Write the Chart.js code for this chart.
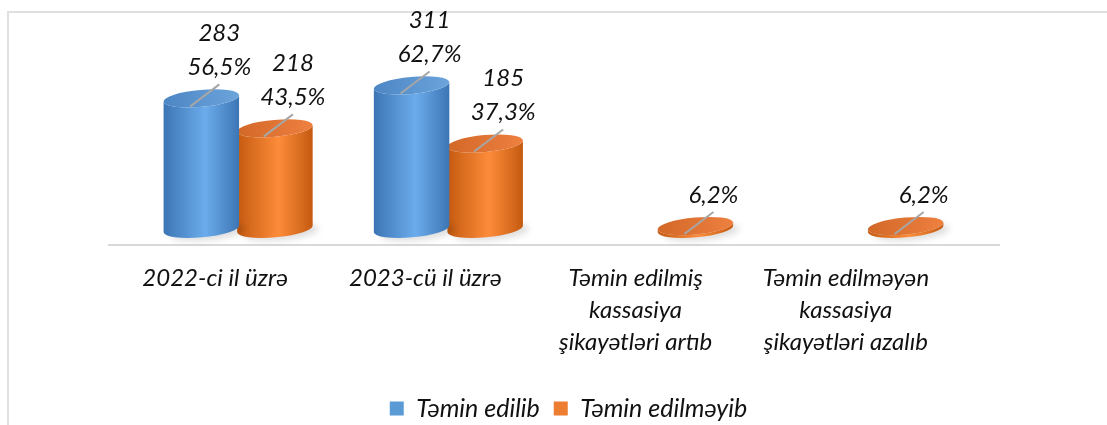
<!DOCTYPE html>
<html><head><meta charset="utf-8">
<script src="https://cdn.jsdelivr.net/npm/chart.js@4"></script>
<style>
html,body{margin:0;padding:0;background:#fff;}
#wrap{position:relative;width:1107px;height:425px;overflow:hidden;}
#frame{position:absolute;left:7px;top:11px;right:-5px;bottom:-5px;border-top:2px solid #e0e0e0;border-left:2px solid #e0e0e0;}
canvas{position:absolute;left:0;top:0;}
</style></head><body>
<div id="wrap"><div id="frame"></div><canvas id="c" width="1107" height="425"></canvas></div>
<script>
const categories = [
  '2022-ci il üzrə',
  '2023-cü il üzrə',
  ['Təmin edilmiş', 'kassasiya', 'şikayətləri artıb'],
  ['Təmin edilməyən', 'kassasiya', 'şikayətləri azalıb']
];
const seriesNames = ['Təmin edilib', 'Təmin edilməyib'];
const satisfiedValues = [283, 311, null, null];
const unsatisfiedValues = [218, 185, 6.2, 6.2];
const satisfiedCounts = [283, 311, null, null];
const unsatisfiedCounts = [218, 185, null, null];
const satisfiedPercents = [56.5, 62.7, null, null];
const unsatisfiedPercents = [43.5, 37.3, 6.2, 6.2];

const counts = [satisfiedCounts, unsatisfiedCounts];
const percents = [satisfiedPercents, unsatisfiedPercents];

const FONT = 'Lato';
const palettes = [
  {edge: '#3c75b4', light: '#6cacec', capA: '#4c86c4', capB: '#6ca4db'},
  {edge: '#c45a10', light: '#fd8c3a', capA: '#d26828', capB: '#ee8040'}
];
const TILT = -0.09;

function drawCylinder(ctx, x, top, base, w, pal) {
  const rx = w / 2, ry = 8.5;
  ctx.save();
  ctx.filter = 'blur(3px)';
  ctx.fillStyle = 'rgba(0,0,0,0.13)';
  ctx.beginPath();
  ctx.ellipse(x + 6, base + 3, rx, ry, TILT, 0, Math.PI * 2);
  ctx.fill();
  ctx.restore();

  const g = ctx.createLinearGradient(x - rx, 0, x + rx, 0);
  g.addColorStop(0, pal.edge);
  g.addColorStop(0.55, pal.light);
  g.addColorStop(1, pal.edge);
  ctx.beginPath();
  ctx.ellipse(x, base, rx, ry, TILT, Math.PI, 0, true);
  ctx.ellipse(x, top, rx, ry, TILT, 0, Math.PI, false);
  ctx.closePath();
  ctx.fillStyle = g;
  ctx.fill();

  const gc = ctx.createLinearGradient(x - rx, top, x + rx, top);
  gc.addColorStop(0, pal.capA);
  gc.addColorStop(1, pal.capB);
  ctx.beginPath();
  ctx.ellipse(x, top, rx, ry, TILT, 0, Math.PI * 2);
  ctx.fillStyle = gc;
  ctx.fill();
}

const cylinderPlugin = {
  id: 'cyl',
  beforeDatasetDraw(chart, args) {
    const ctx = chart.ctx;
    const ds = chart.data.datasets[args.index];
    args.meta.data.forEach((el, i) => {
      if (ds.data[i] == null) return;
      const p = el.getProps(['x', 'y', 'base', 'width'], true);
      drawCylinder(ctx, p.x, p.y, p.base, p.width, palettes[args.index]);
    });
    return false;
  }
};

const axisLinePlugin = {
  id: 'axisLine',
  beforeDatasetsDraw(chart) {
    const {ctx, chartArea} = chart;
    ctx.save();
    ctx.strokeStyle = '#d9d9d9';
    ctx.lineWidth = 2;
    ctx.beginPath();
    ctx.moveTo(chartArea.left - 25, chartArea.bottom);
    ctx.lineTo(chartArea.right + 26, chartArea.bottom);
    ctx.stroke();
    ctx.restore();
  }
};

function fmt(n) { return n.toFixed(1).replace('.', ','); }

const labelPlugin = {
  id: 'lbl',
  afterDatasetsDraw(chart) {
    const ctx = chart.ctx;
    ctx.save();
    chart.data.datasets.forEach((ds, di) => {
      const meta = chart.getDatasetMeta(di);
      meta.data.forEach((el, i) => {
        const pct = percents[di][i];
        if (pct == null) return;
        const cnt = counts[di][i];
        const {x, y} = el.getProps(['x', 'y'], true);
        const lx = x + 18, ly = y - 31;
        ctx.strokeStyle = '#a6a6a6';
        ctx.lineWidth = 2;
        ctx.beginPath();
        ctx.moveTo(lx, ly + 17);
        ctx.lineTo(x - 11, y + 8);
        ctx.stroke();
        ctx.font = 'italic 24px ' + FONT;
        ctx.fillStyle = '#111';
        ctx.textAlign = 'center';
        ctx.textBaseline = 'middle';
        ctx.fillText(fmt(pct) + '%', lx, ly);
        if (cnt != null) ctx.fillText(String(cnt), lx, ly - 34);
      });
    });
    ctx.restore();
  }
};

const legendShift = {
  id: 'legendShift',
  afterLayout(chart) {
    const lg = chart.legend;
    if (lg) {
      lg.left += 15; lg.right += 15;
      lg.top += 6; lg.bottom += 6;
    }
  }
};

new Chart(document.getElementById('c'), {
  type: 'bar',
  data: {
    labels: categories,
    datasets: [
      {label: seriesNames[0], data: satisfiedValues, backgroundColor: '#5b9bd5', categoryPercentage: 0.7, barPercentage: 1.03},
      {label: seriesNames[1], data: unsatisfiedValues, backgroundColor: '#ed7d31', categoryPercentage: 0.7, barPercentage: 1.03}
    ]
  },
  options: {
    responsive: false,
    animation: false,
    layout: {padding: {left: 133, right: 133, top: 20, bottom: 0}},
    scales: {
      x: {
        grid: {display: false, drawTicks: false},
        border: {display: false},
        afterFit(scale) { scale.height = 131; },
        ticks: {
          font: {family: FONT, style: 'italic', size: 24, lineHeight: 32 / 24},
          color: '#111', padding: 17, labelOffset: -23, maxRotation: 0, autoSkip: false
        }
      },
      y: {display: false, min: -35, max: 453}
    },
    plugins: {
      legend: {
        position: 'bottom',
        labels: {
          font: {family: FONT, style: 'italic', size: 25},
          color: '#111', boxWidth: 14, boxHeight: 14, padding: 14
        }
      },
      tooltip: {enabled: false}
    }
  },
  plugins: [cylinderPlugin, axisLinePlugin, labelPlugin, legendShift]
});
</script>
</body></html>
